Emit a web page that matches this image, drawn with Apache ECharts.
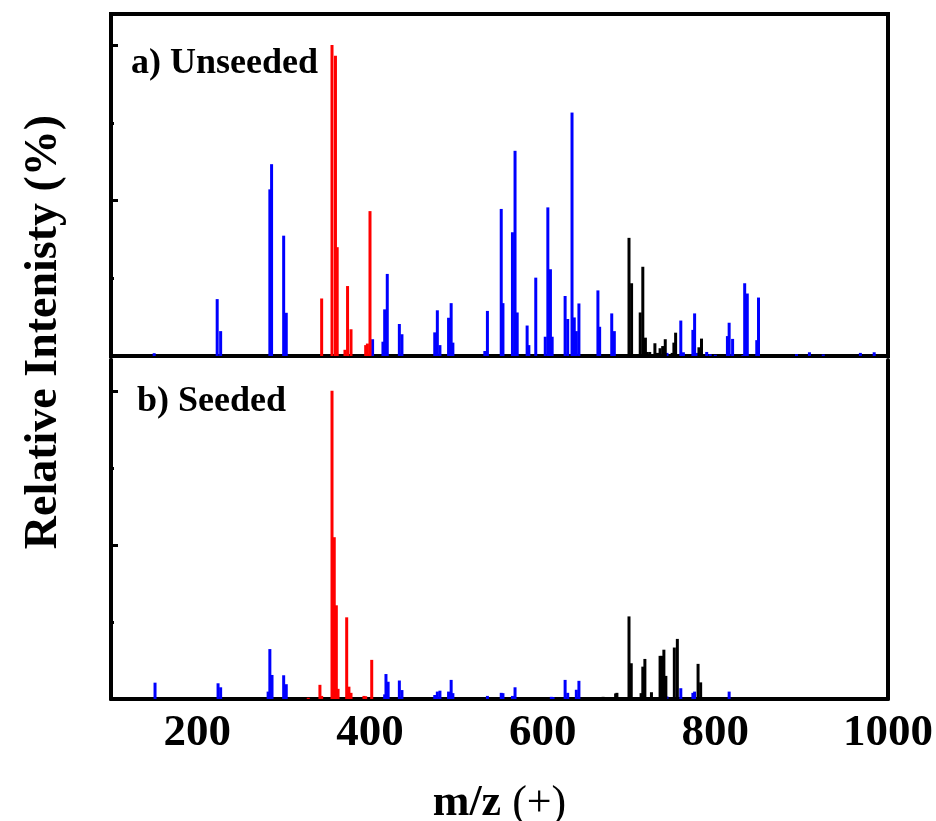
<!DOCTYPE html>
<html>
<head>
<meta charset="utf-8">
<script src="https://cdn.jsdelivr.net/npm/echarts@6/dist/echarts.min.js"></script>
<style>
  html, body { margin: 0; padding: 0; background: #fff; }
  #chart { width: 936px; height: 821px; }
</style>
</head>
<body>
<div id="chart"></div>
<script>
// x tick labels
var xTicks = [200, 400, 600, 800, 1000];

// a) Unseeded : [m/z, relative intensity %]
var unseededBlue = [
  [150, 0.9], [223, 18.3], [227, 8], [284, 53.6], [286, 61.7], [300, 38.7], [303, 13.9],
  [403, 5.4], [415, 4.6], [417, 15], [420, 26.4], [434, 10.3], [437, 7],
  [475, 7.6], [478, 14.7], [481, 3.5], [491, 12.3], [494, 17], [496, 4.3],
  [533, 1.6], [536, 14.5], [552, 47.3], [554, 17], [565, 39.8], [568, 66], [570.5, 14],
  [582, 9.8], [584, 3.5], [592, 25.2], [603, 6.2], [606, 47.8], [609, 27.9], [611, 6.2],
  [626, 19.3], [629, 11.9], [634, 78.3], [636.6, 12.4], [639, 8], [642, 16.9],
  [664, 21.1], [666, 9.4], [680, 13.7], [683, 8], [744, 1], [760, 11.4], [763, 1.2],
  [774, 8.4], [776, 13.7], [779, 1], [790, 1.3], [794, 0.6], [800, 0.4],
  [814, 6.4], [816, 10.7], [820, 5.5], [832, 0.3], [834, 23.4], [837, 20.1],
  [848, 5.1], [850, 18.8], [894, 0.6], [909, 1.2], [925, 0.5], [968, 1], [984, 1.2]
];
var unseededRed = [
  [344, 18.5], [356, 100], [360, 96.6], [362, 35], [371, 2], [374, 22.5], [378, 8.6],
  [395, 3.5], [397, 4], [400, 46.6]
];
var unseededBlack = [
  [700, 38], [703, 23.4], [713, 14], [716, 28.7], [719, 5.9], [721, 1.3], [724, 1.3],
  [730, 4.1], [733, 1], [736, 2.5], [739, 3.2], [742, 5.4], [750, 1], [752, 4.3],
  [754, 7.5], [781, 2.8], [784, 5.6]
];

// b) Seeded
var seededBlue = [
  [151, 5.3], [224, 5.1], [227, 3.8], [282, 2.4], [284, 16.2], [286.5, 7.8], [300, 7.7],
  [303, 4.8], [417, 1.5], [418.5, 8.1], [421, 5.6], [434, 6], [437, 2.9],
  [475, 1.3], [478, 2.4], [481, 2.7], [491, 2.4], [494, 6.2], [496, 1.9], [536, 1],
  [552, 2], [554, 1.9], [565, 1], [568, 3.8], [610, 0.7], [612, 0.6], [626, 6.2],
  [629, 2], [639, 3], [642, 5.9], [744, 0.8], [760, 3.5], [774, 2], [776, 2.4], [816, 2.4]
];
var seededRed = [
  [328.5, 0.4], [342, 4.6], [344, 1], [356, 100], [358.6, 52.5], [361, 30.4], [363, 3.3],
  [373, 26.5], [375.6, 4], [378, 2], [393, 1], [395, 0.9], [402, 12.7]
];
var seededBlack = [
  [670, 0.7], [684.5, 1.8], [686, 2], [700, 26.8], [702.6, 11.6], [714, 1.9], [716, 10.5],
  [718.4, 13], [726, 2.2], [736, 14], [738, 14], [740.4, 16], [742.7, 7.5],
  [752.5, 16.7], [756, 19.5], [780, 11.4], [783, 5.4]
];

var serif = '"Liberation Serif", "Times New Roman", serif';

function stick(name, data, color, xi, yi) {
  return {
    name: name, type: 'bar', data: data,
    xAxisIndex: xi, yAxisIndex: yi,
    barWidth: 3, barGap: '-100%',
    itemStyle: { color: color },
    silent: true, animation: false
  };
}

// left axis with inside ticks (long at 50/100, short at 25/75)
function yAxisFor(grid, ticks, len) {
  return {
    type: 'value', gridIndex: grid, position: 'left', offset: 0, min: 0, max: 110,
    axisLine: { show: true, lineStyle: { color: '#000', width: 4 } },
    axisTick: { show: true, inside: true, length: len, customValues: ticks,
                lineStyle: { color: '#000', width: 3 } },
    axisLabel: { show: false },
    splitLine: { show: false }
  };
}

var mychart = echarts.init(document.getElementById('chart'))
mychart.setOption({
  backgroundColor: '#fff',
  animation: false,
  grid: [
    { left: 111, right: 48, top: 14, height: 342, show: true, outerBoundsMode: 'none',
      containLabel: false, borderColor: '#000', borderWidth: 4, backgroundColor: 'transparent' },
    { left: 111, right: 48, top: 360, height: 339, outerBoundsMode: 'none', containLabel: false }
  ],
  xAxis: [
    { type: 'value', gridIndex: 0, min: 100, max: 1000, interval: 100,
      axisLine: { show: false }, axisTick: { show: false },
      axisLabel: { show: false }, splitLine: { show: false } },
    { type: 'value', gridIndex: 1, min: 100, max: 1000, interval: 100,
      axisLine: { show: true, onZero: false, lineStyle: { color: '#000', width: 4 } },
      axisTick: { show: false }, splitLine: { show: false },
      axisLabel: {
        color: '#000', fontFamily: serif, fontWeight: 'bold', fontSize: 45, margin: 12,
        formatter: function (v) { return xTicks.indexOf(v) >= 0 ? String(v) : ''; }
      },
      name: '{b|m/z }{n|(+)}', nameLocation: 'middle', nameGap: 83,
      nameTextStyle: {
        rich: {
          b: { fontFamily: serif, fontWeight: 'bold', fontSize: 44, color: '#000' },
          n: { fontFamily: serif, fontWeight: 'normal', fontSize: 44, color: '#000' }
        }
      }
    }
  ],
  yAxis: [
    yAxisFor(0, [50, 100], 7),
    yAxisFor(0, [25, 75], 3),
    yAxisFor(1, [50, 100], 7),
    yAxisFor(1, [25, 75], 3),
    { type: 'value', gridIndex: 1, position: 'right', offset: 0, min: 0, max: 110,
      axisLine: { show: true, lineStyle: { color: '#000', width: 4 } },
      axisTick: { show: false }, axisLabel: { show: false }, splitLine: { show: false } }
  ],
  graphic: [
    { type: 'text', x: 131, y: 64,
      style: { text: 'a) Unseeded', fontFamily: serif, fontWeight: 'bold', fontSize: 36,
               fill: '#000', align: 'left', verticalAlign: 'middle' } },
    { type: 'text', x: 137, y: 402,
      style: { text: 'b) Seeded', fontFamily: serif, fontWeight: 'bold', fontSize: 36,
               fill: '#000', align: 'left', verticalAlign: 'middle' } },
    { type: 'text', x: 44, y: 332, rotation: Math.PI / 2,
      style: { text: 'Relative Intenisty (%)', fontFamily: serif, fontWeight: 'bold',
               fontSize: 46, fill: '#000', align: 'center', verticalAlign: 'middle' } }
  ],
  series: [
    stick('unseededBlue', unseededBlue, '#0000ff', 0, 0),
    stick('unseededRed', unseededRed, '#ff0000', 0, 0),
    stick('unseededBlack', unseededBlack, '#000000', 0, 0),
    stick('seededBlue', seededBlue, '#0000ff', 1, 2),
    stick('seededRed', seededRed, '#ff0000', 1, 2),
    stick('seededBlack', seededBlack, '#000000', 1, 2)
  ]
})
</script>
</body>
</html>
